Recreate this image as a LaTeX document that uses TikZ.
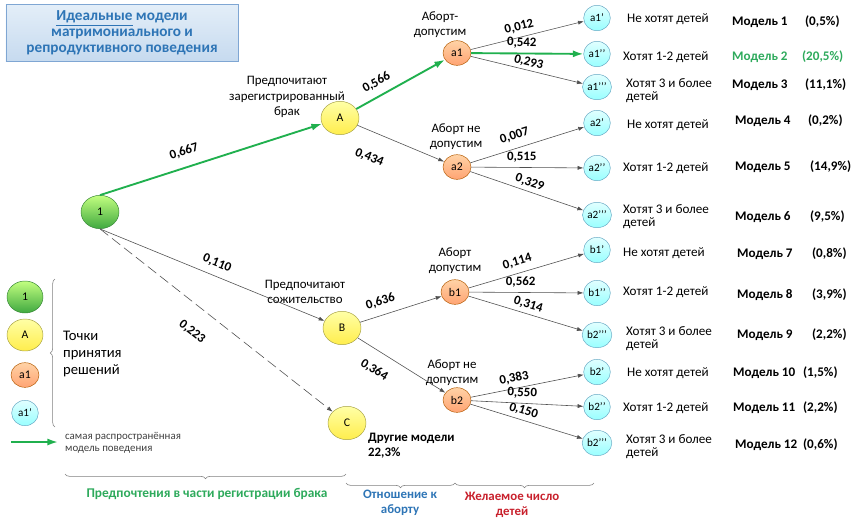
\documentclass[tikz,border=0pt]{standalone}
\usepackage{fontspec}
\setmainfont{Carlito}
\usepackage{xcolor}
\usepackage{tikz}
\usetikzlibrary{positioning,shapes.geometric,arrows.meta,decorations.pathreplacing}

\definecolor{bestgreen}{HTML}{20B04E}
\definecolor{txtgreen}{HTML}{2EAA5C}
\definecolor{txtblue}{HTML}{2E75B6}
\definecolor{txtred}{HTML}{C8202C}
\definecolor{linegray}{HTML}{505050}
\definecolor{titletop}{HTML}{E3EEF8}
\definecolor{titlebot}{HTML}{C6DAEF}
\definecolor{titleline}{HTML}{7FA6D3}

\tikzset{
  root/.style={ellipse,draw=green!40!black!80,top color=green!30!lime!50!white,bottom color=green!55!black!75,
    minimum width=1.14cm,minimum height=1.0cm,font=\fontsize{10}{12}\selectfont},
  pref/.style={ellipse,draw=yellow!60!black,top color=yellow!35,bottom color=yellow!80!orange!70,
    minimum width=1.14cm,minimum height=1.0cm,font=\fontsize{10}{12}\selectfont},
  abort/.style={ellipse,draw=orange!70!black,top color=orange!35,bottom color=orange!70!red!55,
    minimum width=0.84cm,minimum height=0.74cm,inner sep=1pt,font=\fontsize{10}{12}\selectfont},
  leaf/.style={ellipse,draw=cyan!50!gray,top color=cyan!12,bottom color=cyan!40,
    minimum width=0.8cm,minimum height=0.76cm,inner sep=0.5pt,font=\fontsize{9.5}{11}\selectfont},
  wt/.style={sloped,inner sep=1pt,font=\bfseries\fontsize{11}{12}\selectfont},
  desc/.style={anchor=west,align=left,font=\fontsize{11.2}{11}\selectfont},
  model/.style={anchor=west,font=\bfseries\fontsize{11.2}{12}\selectfont},
  note/.style={align=center,font=\fontsize{11}{13}\selectfont},
  arr/.style={draw=linegray,line width=0.5pt,-{Latex[length=5pt,width=3.5pt]}},
  best/.style={draw=bestgreen,line width=1.6pt,-{Latex[length=9pt,width=6pt]}},
  brc/.style={draw=gray,line width=0.5pt,decorate,decoration={brace,amplitude=4pt}}
}

\begin{document}
\begin{tikzpicture}[x=0.03cm,y=-0.03cm]
\useasboundingbox (0,0) rectangle (853,518);
% title
\node[draw=titleline,top color=titletop,bottom color=titlebot,minimum width=6.96cm,minimum height=1.71cm,
  align=center,text=txtblue,font=\bfseries\fontsize{13}{13.5}\selectfont] (title) at (122,33)
  {\underline{Идеальные} модели\\матримониального и\\репродуктивного поведения};

\begin{scope}
    \node[root] (n1) at (100,212) {1};
    \node[pref] (A) at (340,118) {A};
    \node[pref] (B) at (342,328) {B};
    \node[pref] (C) at (347,423) {C};
    \node[abort] (a1) at (457,53) {a1};
    \node[abort] (a2) at (457,167) {a2};
    \node[abort] (b1) at (455,292) {b1};
    \node[abort] (b2) at (457,400) {b2};
    \node[leaf] (a1p) at (597,18) {a1’};
    \node[leaf] (a1pp) at (597,54) {a1’’};
    \node[leaf] (a1ppp) at (597,87) {a1’’’};
    \node[leaf] (a2p) at (597,123) {a2’};
    \node[leaf] (a2pp) at (597,168) {a2’’};
    \node[leaf] (a2ppp) at (597,215) {a2’’’};
    \node[leaf] (b1p) at (597,250) {b1’};
    \node[leaf] (b1pp) at (597,293) {b1’’};
    \node[leaf] (b1ppp) at (597,335) {b2’’’};
    \node[leaf] (b2p) at (597,372) {b2’};
    \node[leaf] (b2pp) at (597,407) {b2’’};
    \node[leaf] (b2ppp) at (597,443) {b2’’’};
\end{scope}

% branch notes
\node[note] (noteA) at (287,97) {Предпочитают\\зарегистрированный\\брак};
\node[note] (noteB) at (305,292) {Предпочитают\\сожительство};
\node[note] (notea1) at (440,25) {Аборт-\\допустим};
\node[note] (notea2) at (456,137) {Аборт не\\допустим};
\node[note] (noteb1) at (455,261) {Аборт\\допустим};
\node[note] (noteb2) at (452,373) {Аборт не\\допустим};
\node[anchor=west,align=left,font=\bfseries\fontsize{11}{13}\selectfont] (other) at (364,446) {Другие модели\\22,3\%};

% edges
\draw[best] (n1.north) -- node[wt,above=7pt,pos=.4] (w1A) {0,667} (A);
\draw[arr] (n1.south) -- node[wt,above=5pt,pos=.5] (w1B) {0,110} (B);
\draw[arr,dash pattern=on 9pt off 4pt] (n1.south) -- node[wt,below=15pt,pos=.46] (w1C) {0,223} (C);
\draw[best] (A) -- node[wt,above=5pt,pos=.3] (wAa1) {0,566} (a1);
\draw[arr] (A) -- node[wt,below=16pt,pos=.25] (wAa2) {0,434} (a2);
\draw[arr] (B) -- node[wt,above=6pt,pos=.3] (wBb1) {0,636} (b1);
\draw[arr] (B) -- node[wt,below=10pt,pos=.3] (wBb2) {0,364} (b2);
\draw[arr] (a1) -- node[wt,above=3pt,pos=.45] (w1) {0,012} (a1p);
\draw[best] (a1) -- node[wt,above=3pt,pos=.45] (w2) {0,542} (a1pp);
\draw[arr] (a1) -- node[wt,above=1pt,pos=.5] (w3) {0,293} (a1ppp);
\draw[arr] (a2) -- node[wt,above=5pt,pos=.42] (w4) {0,007} (a2p);
\draw[arr] (a2) -- node[wt,above=3pt,pos=.45] (w5) {0,515} (a2pp);
\draw[arr] (a2) -- node[wt,above=2pt,pos=.5] (w6) {0,329} (a2ppp);
\draw[arr] (b1) -- node[wt,above=4pt,pos=.45] (w7) {0,114} (b1p);
\draw[arr] (b1) -- node[wt,above=3pt,pos=.45] (w8) {0,562} (b1pp);
\draw[arr] (b1) -- node[wt,above=2pt,pos=.5] (w9) {0,314} (b1ppp);
\draw[arr] (b2) -- node[wt,above=3pt,pos=.4] (w10) {0,383} (b2p);
\draw[arr] (b2) -- node[wt,above=3pt,pos=.45] (w11) {0,550} (b2pp);
\draw[arr] (b2) -- node[wt,above=2pt,pos=.45] (w12) {0,150} (b2ppp);

% outcomes
\node[desc] (d1) at (623,19) {Не хотят детей};
\node[desc] (d2) at (619,57) {Хотят 1-2 детей};
\node[desc] (d3) at (622,91) {Хотят 3 и более\\детей};
\node[desc] (d4) at (623,125) {Не хотят детей};
\node[desc] (d5) at (619,168) {Хотят 1-2 детей};
\node[desc] (d6) at (619,217) {Хотят 3 и более\\детей};
\node[desc] (d7) at (619,253) {Не хотят детей};
\node[desc] (d8) at (619,292) {Хотят 1-2 детей};
\node[desc] (d9) at (622,339) {Хотят 3 и более\\детей};
\node[desc] (d10) at (623,373) {Не хотят детей};
\node[desc] (d11) at (619,408) {Хотят 1-2 детей};
\node[desc] (d12) at (622,447) {Хотят 3 и более\\детей};

\node[model] (m1) at (728,22) {Модель 1};
\node[model,text=txtgreen] (m2) at (728,57) {Модель 2};
\node[model] (m3) at (728,85) {Модель 3};
\node[model] (m4) at (731,121) {Модель 4};
\node[model] (m5) at (731,167) {Модель 5};
\node[model] (m6) at (731,217) {Модель 6};
\node[model] (m7) at (733,254) {Модель 7};
\node[model] (m8) at (733,295) {Модель 8};
\node[model] (m9) at (733,335) {Модель 9};
\node[model] (m10) at (729,373) {Модель 10};
\node[model] (m11) at (729,408) {Модель 11};
\node[model] (m12) at (731,445) {Модель 12};

\node[model] (p1) at (801,22) {(0,5\%)};
\node[model,text=txtgreen] (p2) at (798,57) {(20,5\%)};
\node[model] (p3) at (801,85) {(11,1\%)};
\node[model] (p4) at (804,121) {(0,2\%)};
\node[model] (p5) at (806,167) {(14,9\%)};
\node[model] (p6) at (806,217) {(9,5\%)};
\node[model] (p7) at (808,254) {(0,8\%)};
\node[model] (p8) at (808,295) {(3,9\%)};
\node[model] (p9) at (808,335) {(2,2\%)};
\node[model] (p10) at (799,373) {(1,5\%)};
\node[model] (p11) at (799,408) {(2,2\%)};
\node[model] (p12) at (799,445) {(0,6\%)};

% legend
\node[root,minimum width=1.08cm,minimum height=0.96cm] (l1) at (25,297) {1};
\node[pref,minimum width=1.08cm,minimum height=0.96cm] (lA) at (25,335) {A};
\node[abort] (la1) at (25,375) {a1};
\node[leaf] (la1p) at (25,413) {a1’};
\draw[brc] (55,427) -- (55,279);
\node[anchor=west,align=left,font=\fontsize{12.5}{14.5}\selectfont] (points) at (59,354) {Точки\\принятия\\решений};
\coordinate (lg0) at (11,442);
\coordinate (lg1) at (58,442);
\draw[best] (lg0) -- (lg1);
\node[anchor=west,align=left,text=darkgray,font=\fontsize{9.3}{10}\selectfont] (bestnote) at (61,443) {самая распространённая\\модель поведения};

% bottom
\draw[brc,decoration={brace,mirror,amplitude=4pt}] (65,474) -- (346,474);
\draw[brc,decoration={brace,mirror,amplitude=4pt}] (346,483) -- (455,483);
\draw[brc,decoration={brace,mirror,amplitude=4pt}] (455,483) -- (594,483);
\node[text=txtgreen,font=\bfseries\fontsize{11.4}{12}\selectfont] (g1) at (207,494) {Предпочтения в части регистрации брака};
\node[note,text=txtblue,font=\bfseries\fontsize{11}{12.5}\selectfont] (g2) at (400,503) {Отношение к\\аборту};
\node[note,text=txtred,font=\bfseries\fontsize{11}{12.5}\selectfont] (g3) at (512,505) {Желаемое число\\детей};
\end{tikzpicture}
\end{document}
